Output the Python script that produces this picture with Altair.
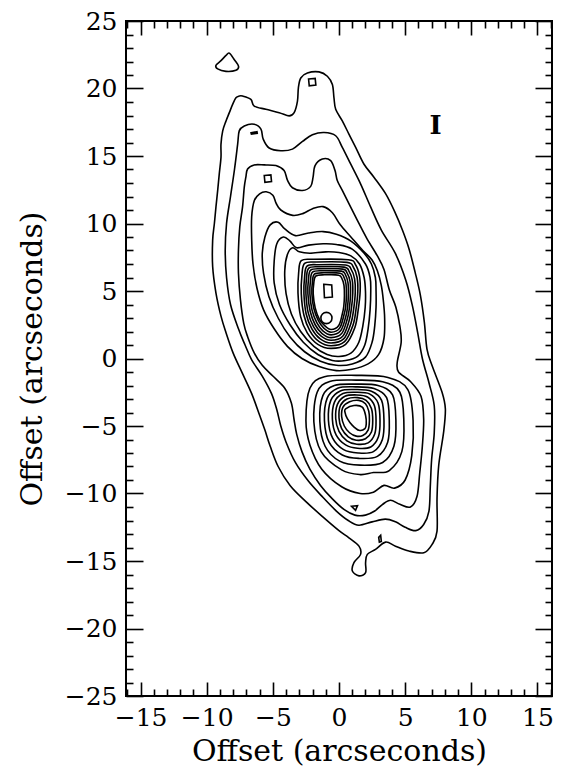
import altair as alt
import pandas as pd

# ---------------- axis tick positions (arcseconds) ----------------
X_MAJOR = [-15, -10, -5, 0, 5, 10, 15]
X_MINOR = [-16, -14, -13, -12, -11, -9, -8, -7, -6, -4, -3, -2, -1,
           1, 2, 3, 4, 6, 7, 8, 9, 11, 12, 13, 14, 16]
Y_MAJOR = [-25, -20, -15, -10, -5, 0, 5, 10, 15, 20, 25]
Y_MINOR = [-24, -23, -22, -21, -19, -18, -17, -16, -14, -13, -12, -11, -9, -8, -7, -6,
           -4, -3, -2, -1, 1, 2, 3, 4, 6, 7, 8, 9, 11, 12, 13, 14, 16, 17, 18, 19,
           21, 22, 23, 24]

# ---------------- contour lines (x, y in arcsec) ----------------
BLOB_TOP = [(-8.29, 22.62), (-7.91, 22.13), (-7.59, 21.64), (-7.79, 21.35), (-8.54, 21.27),
            (-9.17, 21.45), (-9.30, 21.72), (-8.92, 22.06), (-8.54, 22.45)]

C1 = [(-7.29, 19.44), (-6.66, 19.19), (-6.41, 18.70), (-5.53, 18.46), (-4.52, 18.21), (-3.77, 17.97),
      (-3.39, 18.21), (-3.14, 19.07), (-3.07, 20.05), (-2.89, 20.78), (-2.39, 21.15), (-1.51, 21.23),
      (-0.88, 20.91), (-0.50, 20.29), (-0.38, 19.31), (-0.25, 18.46), (0.25, 17.60), (0.75, 16.62),
      (1.26, 15.64), (1.88, 14.41), (2.64, 13.43), (3.52, 12.21), (4.20, 10.90), (4.80, 9.50),
      (5.30, 8.10), (5.75, 6.40), (6.15, 4.70), (6.45, 2.70), (6.65, 0.70), (7.04, -0.54),
      (7.79, -2.50), (8.04, -3.73), (7.91, -5.44), (7.54, -7.89), (7.41, -10.34), (7.41, -12.79),
      (7.04, -13.77), (6.41, -14.39), (5.28, -14.26), (4.27, -13.90), (3.52, -13.60), (2.76, -14.14),
      (2.14, -14.51), (2.01, -15.12), (2.01, -15.86), (1.51, -16.10), (1.01, -15.74), (1.13, -15.12),
      (1.63, -14.51), (1.51, -13.90), (0.75, -13.28), (0.00, -12.75), (-1.20, -11.75), (-2.50, -10.60),
      (-3.70, -9.40), (-4.60, -8.00), (-5.20, -6.50), (-5.60, -5.30), (-6.00, -4.20), (-6.60, -2.60),
      (-7.30, -1.10), (-8.00, 0.40), (-8.54, 1.91), (-8.92, 3.14), (-9.30, 4.85), (-9.55, 6.81),
      (-9.55, 8.77), (-9.42, 10.00), (-9.30, 11.23), (-9.17, 12.45), (-9.05, 13.68), (-8.92, 14.90),
      (-8.92, 15.88), (-8.79, 16.86), (-8.54, 17.60), (-8.29, 18.21), (-8.04, 18.82), (-7.79, 19.31),
      (-7.54, 19.44)]

C2 = [(-7.66, 15.88), (-7.54, 16.86), (-7.16, 17.23), (-6.41, 17.35), (-5.90, 16.99), (-5.73, 16.25),
      (-5.28, 15.59), (-4.40, 15.39), (-3.52, 15.51), (-2.76, 16.08), (-2.01, 16.57), (-1.13, 16.74),
      (-0.25, 16.50), (0.25, 15.64), (0.88, 14.41), (1.63, 12.94), (2.39, 11.23), (3.20, 9.51),
      (4.25, 7.80), (5.05, 5.80), (5.55, 3.90), (5.95, 1.90), (6.30, 0.00), (6.80, -1.80),
      (7.20, -3.50), (7.20, -5.50), (7.00, -7.50), (6.90, -9.50), (6.80, -11.30), (6.40, -12.30),
      (5.80, -12.75), (5.00, -12.50), (4.27, -12.10), (3.50, -11.90), (2.50, -12.10), (1.50, -12.35),
      (0.70, -12.00), (-0.20, -11.30), (-1.20, -10.30), (-2.30, -9.10), (-3.30, -7.70), (-4.00, -6.20),
      (-4.40, -5.00), (-4.70, -3.80), (-5.10, -2.60), (-5.80, -1.30), (-6.60, -0.10), (-7.10, 1.00),
      (-7.60, 2.20), (-8.20, 4.00), (-8.50, 6.00), (-8.60, 8.00), (-8.50, 10.00), (-8.20, 12.00),
      (-7.90, 14.00)]

C3 = [(-7.04, 13.43), (-6.91, 14.04), (-6.41, 14.34), (-5.65, 14.34), (-4.77, 14.29), (-4.15, 13.92),
      (-3.89, 13.19), (-3.52, 12.65), (-2.76, 12.45), (-2.14, 12.75), (-1.96, 13.43), (-1.81, 14.29),
      (-1.26, 14.78), (-0.63, 14.66), (-0.30, 13.92), (-0.13, 13.19), (0.25, 12.45), (0.75, 11.47),
      (1.38, 10.25), (2.10, 8.90), (2.90, 7.60), (3.40, 6.60), (3.80, 5.10), (4.30, 3.80),
      (4.60, 2.40), (4.70, 1.20), (4.40, -0.30), (4.50, -1.00), (5.40, -1.70), (6.20, -2.80),
      (6.40, -4.50), (6.30, -6.50), (6.10, -8.50), (5.90, -10.20), (5.40, -11.00), (4.60, -10.80),
      (3.90, -10.50), (3.30, -10.80), (2.70, -11.30), (2.00, -11.60), (1.20, -11.60), (0.40, -11.20),
      (-0.50, -10.40), (-1.40, -9.40), (-2.20, -8.20), (-2.80, -6.90), (-3.20, -5.60), (-3.40, -4.50),
      (-3.60, -3.30), (-4.10, -2.20), (-5.00, -1.30), (-5.80, -0.50), (-6.40, 0.40), (-6.90, 1.60),
      (-7.20, 2.60), (-7.45, 4.36), (-7.60, 6.32), (-7.60, 8.04), (-7.50, 9.75), (-7.29, 11.23),
      (-7.16, 12.70)]

C4 = [(-6.40, 11.70), (-6.00, 12.20), (-5.50, 12.35), (-5.00, 12.10), (-4.75, 11.50), (-4.40, 11.00),
      (-3.50, 10.60), (-2.70, 10.75), (-2.00, 11.10), (-1.20, 11.25), (-0.50, 10.80), (0.10, 9.90),
      (0.90, 9.00), (1.80, 8.00), (2.50, 7.30), (2.90, 6.50), (3.20, 5.40), (3.35, 4.30),
      (3.45, 3.00), (3.40, 1.50), (3.00, 0.30), (2.20, -0.40), (1.00, -0.80), (-0.20, -0.90),
      (-1.50, -0.60), (-2.80, 0.00), (-3.90, 0.90), (-4.90, 2.20), (-5.70, 3.60), (-6.20, 5.20),
      (-6.50, 7.00), (-6.60, 8.80), (-6.60, 10.50)]

C5 = [(-5.60, 9.00), (-5.20, 9.90), (-4.60, 10.10), (-4.10, 9.60), (-3.30, 9.10), (-2.30, 9.30),
      (-1.20, 9.40), (-0.20, 9.20), (0.90, 8.70), (1.90, 7.80), (2.45, 7.00), (2.75, 6.00),
      (2.80, 5.00), (2.80, 3.80), (2.70, 2.40), (2.50, 1.20), (2.00, 0.10), (1.00, -0.40),
      (-0.20, -0.50), (-1.40, -0.20), (-2.60, 0.50), (-3.70, 1.60), (-4.60, 3.00), (-5.30, 4.60),
      (-5.70, 6.30), (-5.80, 7.80)]

C6 = [(-4.90, 7.20), (-4.70, 8.50), (-4.20, 9.00), (-3.70, 8.70), (-3.20, 8.20), (-2.30, 8.40),
      (-1.20, 8.50), (-0.20, 8.45), (1.00, 8.10), (2.00, 7.00), (2.35, 6.00), (2.40, 5.00),
      (2.35, 3.60), (2.20, 2.20), (1.95, 1.00), (1.40, 0.15), (0.50, -0.15), (-0.50, -0.15),
      (-1.60, 0.30), (-2.70, 1.20), (-3.70, 2.50), (-4.50, 4.00), (-4.90, 5.60)]

C7 = [(-4.10, 6.50), (-3.90, 7.70), (-3.50, 8.20), (-3.00, 7.90), (-2.20, 7.80), (-1.00, 7.90),
      (0.00, 7.85), (0.90, 7.60), (1.55, 7.00), (1.90, 6.00), (2.00, 5.00), (1.98, 3.80),
      (1.80, 2.40), (1.50, 1.20), (0.90, 0.40), (0.00, 0.15), (-0.90, 0.30), (-1.90, 0.90),
      (-2.90, 2.00), (-3.60, 3.30), (-4.00, 4.80)]

T8 = [(-2.85, 7.25), (-1.90, 7.35), (0.70, 7.32), (1.25, 6.95), (1.55, 6.10), (1.60, 5.00), (1.45, 3.60),
      (1.20, 2.30), (0.50, 1.05), (-0.60, 0.75), (-1.60, 1.05), (-2.40, 1.90), (-2.90, 3.10), (-3.10, 4.85),
      (-3.05, 6.35)]
T7 = [(-2.60, 7.05), (-1.70, 7.15), (0.60, 7.12), (1.08, 6.78), (1.37, 6.00), (1.42, 4.95), (1.28, 3.60),
      (1.05, 2.45), (0.42, 1.25), (-0.60, 0.95), (-1.50, 1.25), (-2.20, 2.05), (-2.65, 3.20), (-2.85, 4.80),
      (-2.80, 6.20)]
T6 = [(-2.42, 6.85), (-1.55, 6.95), (0.50, 6.92), (0.92, 6.60), (1.18, 5.90), (1.23, 4.90), (1.10, 3.60),
      (0.90, 2.60), (0.35, 1.45), (-0.60, 1.15), (-1.42, 1.45), (-2.05, 2.20), (-2.48, 3.30), (-2.65, 4.80),
      (-2.60, 6.05)]
T5 = [(-2.28, 6.70), (-1.45, 6.80), (0.38, 6.77), (0.76, 6.45), (1.00, 5.80), (1.04, 4.85), (0.93, 3.65),
      (0.75, 2.75), (0.28, 1.65), (-0.60, 1.35), (-1.35, 1.65), (-1.92, 2.35), (-2.33, 3.40), (-2.50, 4.80),
      (-2.46, 5.95)]
T4 = [(-2.14, 6.55), (-1.35, 6.65), (0.28, 6.62), (0.62, 6.32), (0.84, 5.70), (0.87, 4.80), (0.78, 3.70),
      (0.62, 2.90), (0.20, 1.85), (-0.60, 1.55), (-1.28, 1.85), (-1.80, 2.50), (-2.18, 3.50), (-2.35, 4.80),
      (-2.31, 5.85)]
T3 = [(-2.00, 6.40), (-1.25, 6.50), (0.18, 6.47), (0.50, 6.18), (0.68, 5.60), (0.71, 4.75), (0.64, 3.75),
      (0.50, 3.05), (0.12, 2.05), (-0.60, 1.75), (-1.22, 2.05), (-1.68, 2.65), (-2.04, 3.60), (-2.20, 4.80),
      (-2.16, 5.75)]
T2 = [(-1.86, 6.25), (-1.15, 6.35), (0.08, 6.32), (0.37, 6.03), (0.53, 5.50), (0.56, 4.70), (0.50, 3.80),
      (0.37, 3.20), (0.05, 2.25), (-0.60, 1.95), (-1.15, 2.25), (-1.56, 2.80), (-1.90, 3.70), (-2.05, 4.80),
      (-2.01, 5.65)]
T1 = [(-1.76, 6.10), (-1.10, 6.20), (-0.02, 6.17), (0.24, 5.88), (0.38, 5.40), (0.41, 4.65), (0.36, 3.85),
      (0.25, 3.30), (-0.02, 2.45), (-0.60, 2.15), (-1.10, 2.45), (-1.48, 2.90), (-1.80, 3.75), (-1.95, 4.80),
      (-1.91, 5.55)]
BLOB_UP = [(-0.95, 3.42), (-0.65, 3.30), (-0.53, 3.00), (-0.65, 2.70), (-0.95, 2.58), (-1.25, 2.70),
           (-1.37, 3.00), (-1.25, 3.30)]

R9 = [(-2.20, -2.20), (-1.10, -1.35), (1.30, -1.25), (3.70, -1.40), (5.20, -2.30), (5.60, -4.60),
      (5.50, -7.20), (5.00, -9.00), (4.20, -9.60), (3.40, -9.40), (2.60, -9.90), (1.60, -10.00),
      (0.20, -9.50), (-1.30, -8.20), (-2.20, -6.40), (-2.50, -4.60)]
R8 = [(-1.65, -2.50), (-0.70, -1.70), (1.30, -1.60), (3.30, -1.72), (4.60, -2.50), (4.90, -4.60),
      (4.75, -6.90), (3.80, -8.30), (2.60, -8.45), (1.60, -8.60), (0.20, -8.25), (-1.35, -6.90), (-1.90, -4.70)]
R7 = [(-1.22, -2.75), (-0.35, -2.00), (1.25, -1.90), (2.95, -2.00), (4.05, -2.70), (4.30, -4.60),
      (4.15, -6.50), (3.30, -7.70), (1.60, -7.90), (0.05, -7.60), (-1.05, -6.50), (-1.45, -4.65)]
R6 = [(-0.90, -2.95), (-0.10, -2.20), (1.25, -2.10), (2.65, -2.22), (3.60, -2.90), (3.80, -4.60),
      (3.68, -6.20), (2.90, -7.25), (1.50, -7.40), (0.25, -7.15), (-0.75, -6.20), (-1.10, -4.60)]
R5 = [(-0.62, -3.10), (0.10, -2.40), (1.25, -2.30), (2.45, -2.42), (3.22, -3.10), (3.40, -4.60),
      (3.28, -6.00), (2.60, -6.90), (1.45, -7.00), (0.35, -6.75), (-0.48, -5.90), (-0.80, -4.55)]
R4 = [(-0.35, -3.25), (0.30, -2.60), (1.30, -2.50), (2.30, -2.62), (2.95, -3.30), (3.10, -4.60),
      (2.98, -5.80), (2.40, -6.55), (1.40, -6.65), (0.50, -6.40), (-0.22, -5.65), (-0.50, -4.50)]
R3 = [(-0.12, -3.40), (0.45, -2.80), (1.35, -2.70), (2.15, -2.85), (2.68, -3.50), (2.80, -4.60),
      (2.70, -5.60), (2.20, -6.25), (1.35, -6.35), (0.60, -6.10), (0.00, -5.40), (-0.25, -4.45)]
R2 = [(0.10, -3.50), (0.60, -3.00), (1.40, -2.90), (2.05, -3.10), (2.45, -3.70), (2.55, -4.60),
      (2.45, -5.45), (2.00, -5.95), (1.30, -6.05), (0.70, -5.80), (0.20, -5.20), (0.00, -4.40)]
R1 = [(0.30, -3.60), (0.80, -3.20), (1.50, -3.10), (2.00, -3.35), (2.25, -3.90), (2.30, -4.60),
      (2.20, -5.30), (1.80, -5.70), (1.30, -5.75), (0.80, -5.50), (0.40, -5.00), (0.20, -4.30)]
BLOB_LOW = [(0.50, -3.73), (1.13, -3.48), (1.76, -3.60), (2.01, -4.22), (2.06, -4.83), (1.96, -5.20),
            (1.51, -5.32), (1.01, -4.95), (0.63, -4.46), (0.45, -3.97)]

# small angular features
SQ_TOP = [(-2.30, 20.70), (-1.80, 20.75), (-1.75, 20.25), (-2.25, 20.20)]
DASH_EAR = [(-6.65, 16.72), (-6.20, 16.80), (-6.18, 16.68), (-6.62, 16.62)]
SQ_EAR = [(-5.65, 13.55), (-5.15, 13.60), (-5.10, 13.10), (-5.60, 13.05)]
RECT_CORE = [(-1.15, 5.50), (-0.55, 5.45), (-0.50, 4.55), (-1.10, 4.50)]
TRI_LOW = [(0.95, -10.95), (1.40, -10.90), (1.25, -11.25)]
MARK_LOW = [(3.00, -13.25), (3.15, -13.10), (3.20, -13.55), (3.05, -13.60)]

LABEL_TEXT = ["I"]
LABEL_X = [7.3]
LABEL_Y = [17.2]

SMOOTH = [("blob_top", BLOB_TOP), ("c1", C1), ("c2", C2), ("c3", C3), ("c4", C4), ("c5", C5),
          ("c6", C6), ("c7", C7), ("t8", T8), ("t7", T7), ("t6", T6), ("t5", T5), ("t4", T4),
          ("t3", T3), ("t2", T2), ("t1", T1), ("blob_up", BLOB_UP), ("r9", R9), ("r8", R8),
          ("r7", R7), ("r6", R6), ("r5", R5), ("r4", R4), ("r3", R3), ("r2", R2), ("r1", R1),
          ("blob_low", BLOB_LOW)]
ANGULAR = [("sq_top", SQ_TOP), ("dash_ear", DASH_EAR), ("sq_ear", SQ_EAR), ("rect_core", RECT_CORE),
           ("tri_low", TRI_LOW), ("mark_low", MARK_LOW)]


def to_frame(groups):
    return pd.DataFrame([{"id": n, "k": k, "x": p[0], "y": p[1]}
                         for n, pts in groups for k, p in enumerate(pts)])


df_smooth = to_frame(SMOOTH)
df_angular = to_frame(ANGULAR)
df_label = pd.DataFrame({"x": LABEL_X, "y": LABEL_Y, "t": LABEL_TEXT})
df_anchor = pd.DataFrame({"x": [0.0], "y": [0.0]})

FONT = "DejaVu Serif"
xs = alt.Scale(domain=[-16.1, 16.1], nice=False, zero=False)
ys = alt.Scale(domain=[-25, 25], nice=False, zero=False)


def axis(orient, values, size, labels, title=None, title_pad=0):
    kw = dict(orient=orient, values=values, tickSize=size, offset=-size, domain=False, grid=False,
              tickColor="black", tickWidth=1.6, labels=labels, labelFlush=False, labelOverlap=False,
              labelFont=FONT, labelFontSize=25, labelColor="black", labelPadding=9)
    if title is not None:
        kw.update(title=title, titleFont=FONT, titleFontSize=30, titleFontWeight="normal",
                  titleColor="black", titlePadding=title_pad)
    else:
        kw.update(title=None)
    return alt.Axis(**kw)


TITLE = "Offset (arcseconds)"

contours = alt.Chart(df_smooth).mark_line(
    interpolate="cardinal-closed", color="black", strokeWidth=1.6
).encode(
    x=alt.X("x:Q", scale=xs, axis=axis("bottom", X_MAJOR, 14, True, TITLE, 6)),
    y=alt.Y("y:Q", scale=ys, axis=axis("left", Y_MAJOR, 17, True, TITLE, 17)),
    detail="id:N",
    order="k:Q",
)

features = alt.Chart(df_angular).mark_line(
    interpolate="linear-closed", color="black", strokeWidth=1.6
).encode(
    x=alt.X("x:Q", scale=xs, axis=None),
    y=alt.Y("y:Q", scale=ys, axis=None),
    detail="id:N",
    order="k:Q",
)

label = alt.Chart(df_label).mark_text(
    font=FONT, fontSize=26, fontWeight="bold", color="black", align="center", baseline="middle"
).encode(
    x=alt.X("x:Q", scale=xs, axis=None),
    y=alt.Y("y:Q", scale=ys, axis=None),
    text="t:N",
)


def tick_layer(xo, xv, xsize, yo, yv, ysize):
    return alt.Chart(df_anchor).mark_point(opacity=0, size=1).encode(
        x=alt.X("x:Q", scale=xs, axis=axis(xo, xv, xsize, False)),
        y=alt.Y("y:Q", scale=ys, axis=axis(yo, yv, ysize, False)),
    )


minor_bl = tick_layer("bottom", X_MINOR, 7, "left", Y_MINOR, 7)
major_tr = tick_layer("top", X_MAJOR, 14, "right", Y_MAJOR, 17)
minor_tr = tick_layer("top", X_MINOR, 7, "right", Y_MINOR, 7)

chart = alt.layer(contours, features, label, minor_bl, major_tr, minor_tr).resolve_axis(
    x="independent", y="independent"
).properties(
    width=426, height=675,
    autosize=alt.AutoSizeParams(type="none"),
    padding={"left": 118, "top": 13, "right": 10, "bottom": 78},
    background="white",
).configure_view(stroke="black", strokeWidth=2)

chart.save("out.html", embed_options={"renderer": "svg", "actions": False})
